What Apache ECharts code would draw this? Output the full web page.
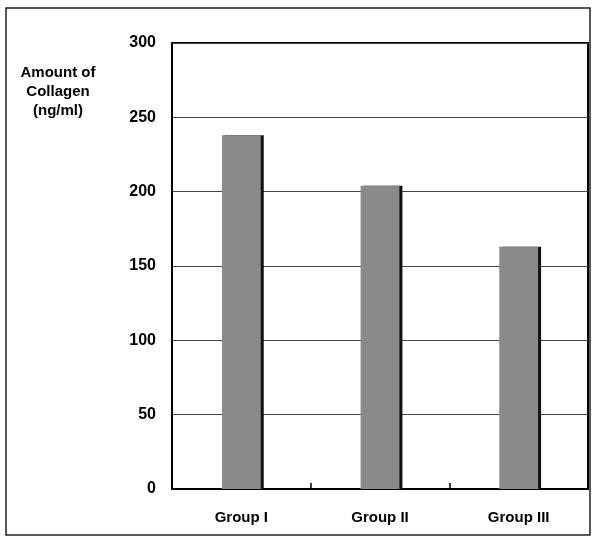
<!DOCTYPE html>
<html><head><meta charset="utf-8">
<script src="https://cdn.jsdelivr.net/npm/echarts@6/dist/echarts.min.js"></script>
<style>html,body{margin:0;padding:0;background:#fff}#c{width:596px;height:540px}</style>
</head><body><div id="c"></div>
<script>
const categories = ['Group I', 'Group II', 'Group III'];
const collagenValues = [238, 204, 163];
const yTicks = [0, 50, 100, 150, 200, 250, 300];

const FONT = 'Liberation Sans, Arial, sans-serif';
const chart = echarts.init(document.getElementById('c'));
chart.setOption({
  animation: false,
  backgroundColor: '#fff',
  textStyle: { fontFamily: FONT },
  graphic: [
    { type: 'rect', shape: { x: 6, y: 8, width: 584, height: 527 }, style: { fill: 'none', stroke: '#222', lineWidth: 1.5 } },
    { type: 'text', x: 58, y: 73, style: { text: 'Amount of', fontSize: 15, fontWeight: 'bold', fill: '#000', align: 'center', verticalAlign: 'middle', fontFamily: FONT } },
    { type: 'text', x: 58, y: 92, style: { text: 'Collagen', fontSize: 15, fontWeight: 'bold', fill: '#000', align: 'center', verticalAlign: 'middle', fontFamily: FONT } },
    { type: 'text', x: 58, y: 111, style: { text: '(ng/ml)', fontSize: 15, fontWeight: 'bold', fill: '#000', align: 'center', verticalAlign: 'middle', fontFamily: FONT } }
  ],
  grid: { left: 172, right: 8, top: 43, bottom: 51, show: true, borderColor: '#000', borderWidth: 2 },
  xAxis: {
    type: 'category', data: categories,
    axisLine: { lineStyle: { color: '#000', width: 2 } },
    axisTick: { show: true, inside: true, length: 6, lineStyle: { color: '#000', width: 1.5 } },
    axisLabel: { color: '#000', fontWeight: 'bold', fontSize: 15, margin: 21 }
  },
  yAxis: {
    type: 'value', min: yTicks[0], max: yTicks[yTicks.length - 1], interval: 50,
    axisLine: { show: true, lineStyle: { color: '#000', width: 2 } },
    axisTick: { show: false },
    axisLabel: { color: '#000', fontWeight: 'bold', fontSize: 16, margin: 16 },
    splitLine: { lineStyle: { color: '#444', width: 1 } }
  },
  series: [{
    type: 'bar', data: collagenValues, barWidth: '28%',
    itemStyle: { color: '#8a8a8a', shadowColor: '#111', shadowOffsetX: 3, shadowBlur: 0 }
  }]
});
</script></body></html>
